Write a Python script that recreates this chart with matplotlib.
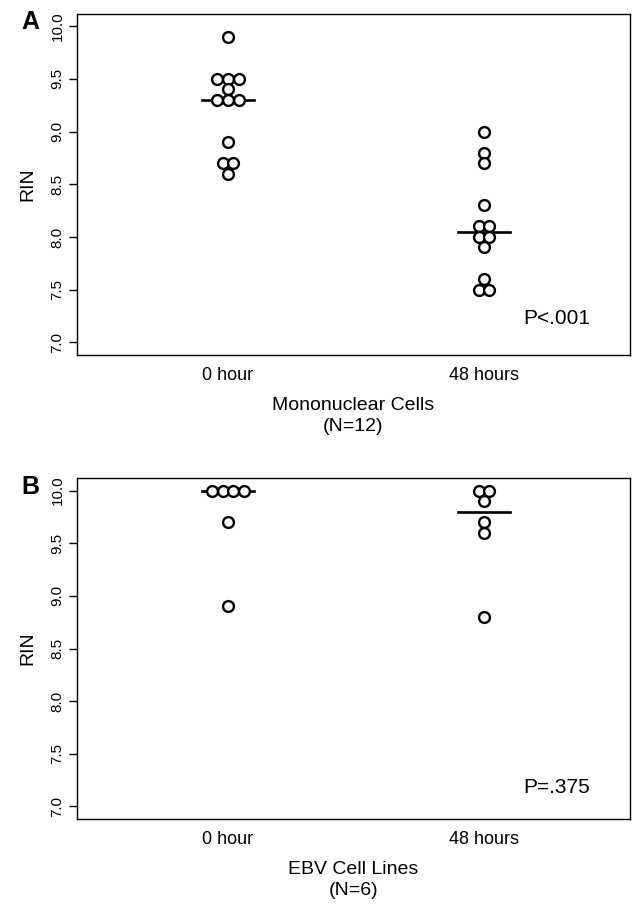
import numpy as np
import matplotlib
matplotlib.use("Agg")
import matplotlib.pyplot as plt

plt.rcParams['font.family'] = ['Liberation Sans', 'DejaVu Sans']

# ---- data ----
groups = ["0 hour", "48 hours"]
mono_0h = [9.9, 9.5, 9.5, 9.5, 9.4, 9.3, 9.3, 9.3, 8.9, 8.7, 8.7, 8.6]
mono_48h = [9.0, 8.8, 8.7, 8.3, 8.1, 8.1, 8.0, 8.0, 7.9, 7.6, 7.5, 7.5]
ebv_0h = [10.0, 10.0, 10.0, 10.0, 9.7, 8.9]
ebv_48h = [10.0, 10.0, 9.9, 9.7, 9.6, 8.8]
yticks = [7.0, 7.5, 8.0, 8.5, 9.0, 9.5, 10.0]
panel_letters = ["A", "B"]
xlabels = ["Mononuclear Cells\n(N=12)", "EBV Cell Lines\n(N=6)"]
pvals = ["P<.001", "P=.375"]

fig = plt.figure(figsize=(6.32, 9.06), dpi=100)
W, H = 632, 906

def axes_px(left, top, right, bottom):
    return fig.add_axes([left / W, 1 - bottom / H, (right - left) / W, (bottom - top) / H])

axA = axes_px(77, 13.5, 630, 355)
axB = axes_px(77, 478, 630, 819)

spacing = 0.042
half_w = 0.102

def swarm(vals):
    vals = np.asarray(vals, dtype=float)
    offs = np.zeros(len(vals))
    for u in np.unique(vals):
        idx = np.where(vals == u)[0]
        n = len(idx)
        offs[idx] = (np.arange(n) - (n - 1) / 2) * spacing
    return offs

def draw(ax, series, letter, xlabel, ptxt, py):
    for i, vals in enumerate(series):
        xpos = i + 1
        ax.plot(xpos + swarm(vals), vals, linestyle='none', marker='o',
                markersize=7.8, markerfacecolor='white', markeredgecolor='black',
                markeredgewidth=1.7, zorder=3)
        med = np.median(vals)
        ax.plot([xpos - half_w, xpos + half_w], [med, med], color='black', lw=1.9, zorder=2)
    ax.set_xlim(0.41, 2.57)
    ax.set_ylim(6.88, 10.12)
    ax.set_yticks(yticks)
    ax.set_yticklabels([f"{v:.1f}" for v in yticks], rotation=90, va='center', fontsize=11)
    ax.set_xticks([1, 2])
    ax.set_xticklabels(groups, fontsize=13)
    ax.tick_params(axis='x', length=0, pad=9)
    ax.tick_params(axis='y', length=6, width=1, pad=3)
    ax.set_ylabel("RIN", fontsize=14, labelpad=10)
    ax.set_xlabel(xlabel, fontsize=14, labelpad=9, linespacing=1.3)
    for s in ax.spines.values():
        s.set_linewidth(1.0)
    ax.text(0.807, py, ptxt, transform=ax.transAxes, ha='left', va='center', fontsize=15)
    ax.text(-0.085, 1.01, letter, transform=ax.transAxes, ha='center', va='top',
            fontsize=18, fontweight='bold')

draw(axA, [mono_0h, mono_48h], panel_letters[0], xlabels[0], pvals[0], 0.108)
draw(axB, [ebv_0h, ebv_48h], panel_letters[1], xlabels[1], pvals[1], 0.091)

fig.savefig("out.png", dpi=100)
